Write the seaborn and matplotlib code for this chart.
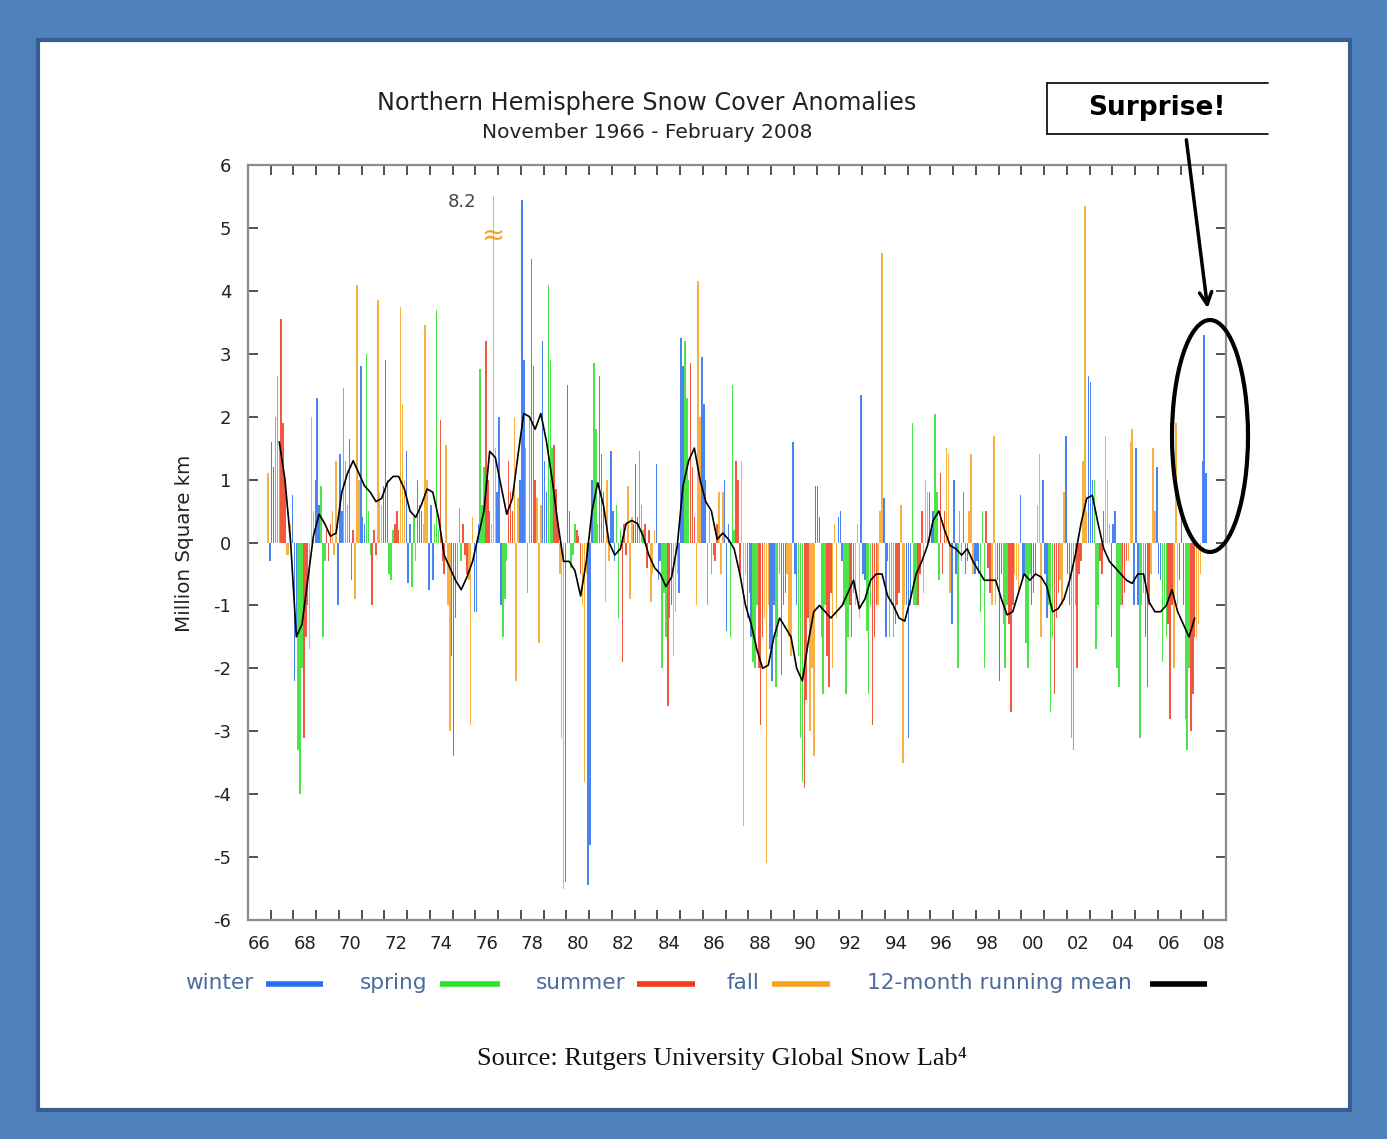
import numpy as np
import pandas as pd
import matplotlib
matplotlib.use("Agg")
import matplotlib.pyplot as plt
from matplotlib.patches import Rectangle, Ellipse, FancyArrowPatch
from matplotlib.lines import Line2D
import seaborn as sns

# monthly anomalies (million km2), Nov 1966 .. Feb 2008
first_month = "1966-11"
anomaly = [
    1.1, -0.3,                                                          # 1966 Nov-Dec
    1.6, 1.2, 2.0, 2.65, 1.5, 3.55, 1.9, 1.0, -0.2, -0.2, 0.3, 0.75,    # 1967
    -2.2, -1.5, -3.3, -4.0, -2.0, -3.1, -1.5, -1.0, -1.7, 2.0, 0.5, 1.0,  # 1968
    2.3, 0.6, 0.9, -1.5, -0.3, 0.2, -0.3, 0.3, 0.5, -0.2, 1.3, -1.0,    # 1969
    1.4, 0.5, 2.45, 1.3, 0.6, 1.65, -0.6, 0.2, -0.9, 4.1, 1.0, 2.8,     # 1970
    0.4, 0.3, 3.0, 0.5, -0.2, -1.0, 0.2, -0.2, 3.85, 0.8, 0.6, 0.9,     # 1971
    2.9, 1.0, -0.5, -0.6, 0.2, 0.3, 0.5, 0.2, 3.75, 2.2, 1.0, 1.45,     # 1972
    -0.65, 0.3, -0.7, 0.4, -0.3, 1.0, 0.6, 0.5, 0.3, 3.45, 1.0, -0.75,  # 1973
    0.6, -0.6, 0.3, 3.7, 0.2, 1.95, -0.3, -0.5, 1.55, -1.0, -3.0, -1.8,  # 1974
    -3.4, -1.2, -0.6, 0.55, -0.3, 0.3, -0.2, -0.5, -0.6, -2.9, 0.4, -1.1,  # 1975
    -1.1, 0.3, 2.75, 0.6, 1.2, 3.2, 1.0, 0.5, 0.3, 8.2, 1.5, 0.8,       # 1976
    2.0, -1.0, -1.5, -0.9, -0.3, 1.3, 0.8, 0.5, 2.0, -2.2, 0.7, 1.0,    # 1977
    5.45, 2.9, 1.5, -0.8, 2.0, 4.5, 2.8, 1.0, 0.7, -1.6, 0.6, 3.2,      # 1978
    1.3, 0.8, 4.1, 2.9, 1.5, 1.55, 0.85, 0.3, -0.5, -3.1, -5.5, -5.4,   # 1979
    2.5, 0.5, -0.4, -0.2, 0.3, 0.2, 0.1, -0.5, -1.0, -3.8, -0.5, -5.45,  # 1980
    -4.8, 1.0, 2.85, 1.8, 0.3, 2.65, 1.4, 0.8, -0.95, 1.0, -0.3, 1.45,  # 1981
    0.5, -0.3, 0.6, -1.2, 0.2, -1.9, 0.3, -0.2, 0.9, -0.9, 0.4, 0.3,    # 1982
    1.25, 0.4, 1.45, 0.6, 0.2, 0.3, -0.4, 0.2, -0.95, -0.5, 0.2, 1.25,  # 1983
    -0.6, -0.3, -2.0, -0.8, -1.5, -2.6, -1.2, -1.0, -1.8, -1.1, -0.5, -0.8,  # 1984
    3.25, 2.8, 3.2, 2.3, 1.0, 2.85, 1.2, 0.4, -1.0, 4.15, 2.0, 2.95,    # 1985
    2.2, 1.0, -1.0, 0.5, -0.5, -0.2, -0.3, 0.3, 0.8, -0.5, 0.8, 1.0,    # 1986
    -1.4, 0.3, -1.5, 2.5, 0.2, 1.3, 1.0, -0.5, 1.3, -4.5, -0.5, -1.2,   # 1987
    -0.8, -1.5, -1.9, -2.0, -1.0, -2.0, -2.9, -1.5, -1.2, -5.1, -1.0, -1.7,  # 1988
    -2.2, -1.0, -2.3, -1.5, -0.5, -2.1, -1.0, -0.8, -0.5, -1.5, -1.8, 1.6,  # 1989
    -0.5, -1.0, -1.8, -3.1, -3.8, -3.9, -2.5, -1.2, -3.0, -2.0, -3.4, 0.9,  # 1990
    0.9, 0.4, -1.5, -2.4, -1.0, -1.8, -2.3, -0.8, -2.0, 0.3, -1.2, 0.4,  # 1991
    0.5, -0.3, -1.0, -2.4, -1.5, -1.0, -1.5, -0.8, -1.0, 0.3, -1.2, 2.35,  # 1992
    -0.5, -0.6, -1.4, -2.4, -1.0, -2.9, -1.5, -1.0, -1.0, 0.5, 4.6, 0.7,  # 1993
    -1.5, -0.3, -1.5, -1.0, -1.5, -1.3, -1.0, -0.8, 0.6, -3.5, -1.0, -1.0,  # 1994
    -3.1, -1.0, 1.9, -1.0, -1.0, -1.0, -0.5, 0.5, -0.8, 1.0, 0.8, 0.8,  # 1995
    0.3, 0.5, 2.05, 0.8, -0.6, 1.1, -0.5, 0.5, 1.5, 1.4, -0.8, -1.3,    # 1996
    1.0, -0.5, -2.0, 0.5, -0.3, 0.8, -0.5, -0.3, 0.5, 1.4, -0.5, -0.5,  # 1997
    -0.3, -0.5, -1.1, 0.5, -2.0, 0.5, -0.4, -0.8, -1.0, 1.7, -1.0, -0.6,  # 1998
    -2.2, -0.5, -1.3, -2.0, -1.0, -1.3, -2.7, -1.0, -0.5, -0.6, -0.8, 0.75,  # 1999
    -0.6, -0.5, -1.6, -2.0, -0.5, -1.0, -0.8, -0.5, 0.6, 1.4, -1.5, 1.0,  # 2000
    -0.5, -1.2, -1.0, -2.7, -1.5, -2.4, -1.2, -0.8, -0.6, -1.0, 0.8, 1.7,  # 2001
    -0.5, -1.0, -3.1, -3.3, -1.0, -2.0, -0.5, -0.3, 1.3, 5.35, 0.5, 2.65,  # 2002
    2.55, 1.0, 1.0, -1.7, -1.0, -0.3, -0.5, 0.5, 1.7, 1.0, 0.3, -1.5,   # 2003
    0.3, 0.5, -2.0, -2.3, -1.0, -1.0, -0.8, -0.3, -0.3, 1.6, 1.8, -1.0,  # 2004
    1.5, -1.0, -3.1, -1.0, -0.8, -1.5, -2.3, -1.0, -0.5, 1.5, 0.5, 1.2,  # 2005
    -0.5, -0.6, -1.9, -1.0, -1.5, -1.3, -2.8, -1.0, -2.0, 1.9, -1.0, -0.6,  # 2006
    0.6, -1.0, -2.8, -3.3, -2.0, -3.0, -2.4, -1.5, -1.5, -1.3, -0.5, 1.3,  # 2007
    3.3, 1.1,                                                           # 2008 Jan-Feb
]

# 12-month running mean, read every 3 months (May 1967 .. Aug 2007)
mean_first_month = "1967-05"
running_mean = [
    1.6, 1.0, 0.0,
    -1.5, -1.3, -0.6, 0.1,  0.45, 0.3, 0.1, 0.15,  0.8, 1.1, 1.3, 1.1,
    0.9, 0.8, 0.65, 0.7,  0.95, 1.05, 1.05, 0.85,  0.5, 0.4, 0.6, 0.85,
    0.8, 0.4, -0.2, -0.4,  -0.6, -0.75, -0.55, -0.3,  0.1, 0.5, 1.45, 1.35,
    0.9, 0.45, 0.7, 1.4,  2.05, 2.0, 1.8, 2.05,  1.6, 1.0, 0.3, -0.3,
    -0.3, -0.45, -0.85, -0.3,  0.5, 0.95, 0.6, 0.0,  -0.2, -0.1, 0.3, 0.35,
    0.3, 0.1, -0.2, -0.4,  -0.5, -0.7, -0.55, -0.05,  0.9, 1.3, 1.5, 1.0,
    0.65, 0.5, 0.05, 0.15,  0.05, -0.1, -0.5, -1.0,  -1.3, -1.7, -2.0, -1.95,
    -1.5, -1.2, -1.35, -1.5,  -2.0, -2.2, -1.6, -1.1,  -1.0, -1.1, -1.2, -1.1,
    -1.0, -0.8, -0.6, -1.05,  -0.9, -0.6, -0.5, -0.5,  -0.85, -1.0, -1.2, -1.25,
    -0.9, -0.5, -0.3, -0.05,  0.35, 0.5, 0.2, -0.05,  -0.1, -0.2, -0.1, -0.3,
    -0.45, -0.6, -0.6, -0.6,  -0.9, -1.15, -1.1, -0.8,  -0.5, -0.6, -0.5, -0.55,
    -0.7, -1.1, -1.05, -0.9,  -0.6, -0.2, 0.3, 0.7,  0.75, 0.3, -0.1, -0.3,
    -0.4, -0.5, -0.6, -0.65,  -0.5, -0.5, -0.95, -1.1,  -1.1, -1.0, -0.75, -1.1,
    -1.3, -1.5, -1.2,
]

season_of_month = {12: "winter", 1: "winter", 2: "winter", 3: "spring", 4: "spring", 5: "spring",
                   6: "summer", 7: "summer", 8: "summer", 9: "fall", 10: "fall", 11: "fall"}
season_colors = {"winter": "#2A6EF0", "spring": "#2EE02A", "summer": "#F23A1C", "fall": "#F7A31E"}
legend_labels = ["winter", "spring", "summer", "fall", "12-month running mean"]
year_labels = ["66", "68", "70", "72", "74", "76", "78", "80", "82", "84", "86", "88", "90",
               "92", "94", "96", "98", "00", "02", "04", "06", "08"]

months = pd.date_range(first_month, periods=len(anomaly), freq="MS")
df = pd.DataFrame({"t": months.year + (months.month - 0.5) / 12, "anomaly": anomaly,
                   "season": [season_of_month[m] for m in months.month]})
mm = pd.date_range(mean_first_month, periods=len(running_mean), freq="3MS")
mean_df = pd.DataFrame({"t": mm.year + (mm.month - 0.5) / 12, "mean": running_mean})

sns.set_style("white")
plt.rcParams["font.family"] = ["DejaVu Sans"]
plt.rcParams["axes.unicode_minus"] = False

W, H = 1387, 1139
fig = plt.figure(figsize=(W / 100, H / 100), dpi=100, facecolor="#4F81BD")


def fx(x):
    return x / W


def fy(y):
    return 1 - y / H


# white panel with darker blue edge (behind the axes)
fig.add_artist(Rectangle((fx(38), fy(1110)), fx(1350) - fx(38), fy(40) - fy(1110),
                         transform=fig.transFigure, facecolor="white", edgecolor="#365E91",
                         lw=3, zorder=-5))

ax = fig.add_axes([fx(248), fy(920), fx(1226) - fx(248), fy(165) - fy(920)])
ax.set_facecolor("white")

# bars, the 8.2 one is cut at 5.5 like in the original
ax.bar(df["t"], np.minimum(df["anomaly"], 5.5), width=0.065,
       color=df["season"].map(season_colors), linewidth=0, alpha=0.85)
sns.lineplot(data=mean_df, x="t", y="mean", color="black", linewidth=1.2, ax=ax)

ax.set_xlim(1966, 2009)
ax.set_ylim(-6, 6)
ax.set_xticks(np.arange(1966.5, 2009, 2))
ax.set_xticklabels(year_labels)
ax.set_xticks(np.arange(1967, 2009), minor=True)
ax.set_yticks(range(-6, 7))
ax.tick_params(axis="x", which="major", length=0, pad=11, labelsize=13, labelcolor="#222222")
ax.tick_params(axis="x", which="minor", direction="in", length=7, width=1.2, top=True, bottom=True, color="#333333")
ax.tick_params(axis="y", direction="in", length=7, width=1.2, left=True, right=True,
               pad=12, labelsize=13, labelcolor="#222222", color="#333333")
ax.set_xlabel("")
ax.set_ylabel("")
for sp in ax.spines.values():
    sp.set_color("#8C8C8C")
    sp.set_linewidth(1.6)

# "8.2" note and break mark on the cut bar
fig.text(fx(462), fy(202), "8.2", fontsize=13, color="#444444", ha="center", va="center")
fig.text(fx(493), fy(236), "\u2248", fontsize=20, color=season_colors["fall"], ha="center", va="center")

fig.text(fx(647), fy(103), "Northern Hemisphere Snow Cover Anomalies", fontsize=17.2,
         color="#222222", ha="center", va="center")
fig.text(fx(647), fy(133), "November 1966 - February 2008", fontsize=14.5, color="#222222",
         ha="center", va="center")
fig.text(fx(185), fy(543), "Million Square km", fontsize=14.3, rotation=90, color="#222222",
         ha="center", va="center")

# legend row
text_x = [219, 394, 581, 743, 999]
line_x = [(266, 323), (440, 500), (637, 695), (772, 830), (1150, 1207)]
line_c = [season_colors["winter"], season_colors["spring"], season_colors["summer"],
          season_colors["fall"], "black"]
for lab, tx, (x0, x1), c in zip(legend_labels, text_x, line_x, line_c):
    fig.text(fx(tx), fy(983), lab, fontsize=15.6, color="#4C6C9E", ha="center", va="center")
    fig.add_artist(Line2D([fx(x0), fx(x1)], [fy(984), fy(984)], transform=fig.transFigure,
                          color=c, lw=4, solid_capstyle="butt"))

fig.text(fx(722), fy(1058), "Source: Rutgers University Global Snow Lab\u2074", fontsize=19,
         family=["Liberation Serif", "DejaVu Serif"], color="#111111", ha="center", va="center")

# "Surprise!" call-out
for xs, ys in [([1047, 1047], [83, 134]), ([1047, 1268], [83, 83]), ([1047, 1268], [134, 134])]:
    fig.add_artist(Line2D([fx(v) for v in xs], [fy(v) for v in ys], transform=fig.transFigure,
                          color="black", lw=1.2))
fig.text(fx(1157), fy(108), "Surprise!", fontsize=19, fontweight="bold", color="black",
         ha="center", va="center")
fig.add_artist(FancyArrowPatch((fx(1186), fy(137)), (fx(1208), fy(311)), transform=fig.transFigure,
                               arrowstyle="->", mutation_scale=22, color="black", lw=2.5))
fig.add_artist(Ellipse((fx(1210), fy(436)), fx(76), 232 / H, transform=fig.transFigure,
                       fill=False, edgecolor="black", lw=3))

fig.savefig("out.png", dpi=100, facecolor=fig.get_facecolor())
